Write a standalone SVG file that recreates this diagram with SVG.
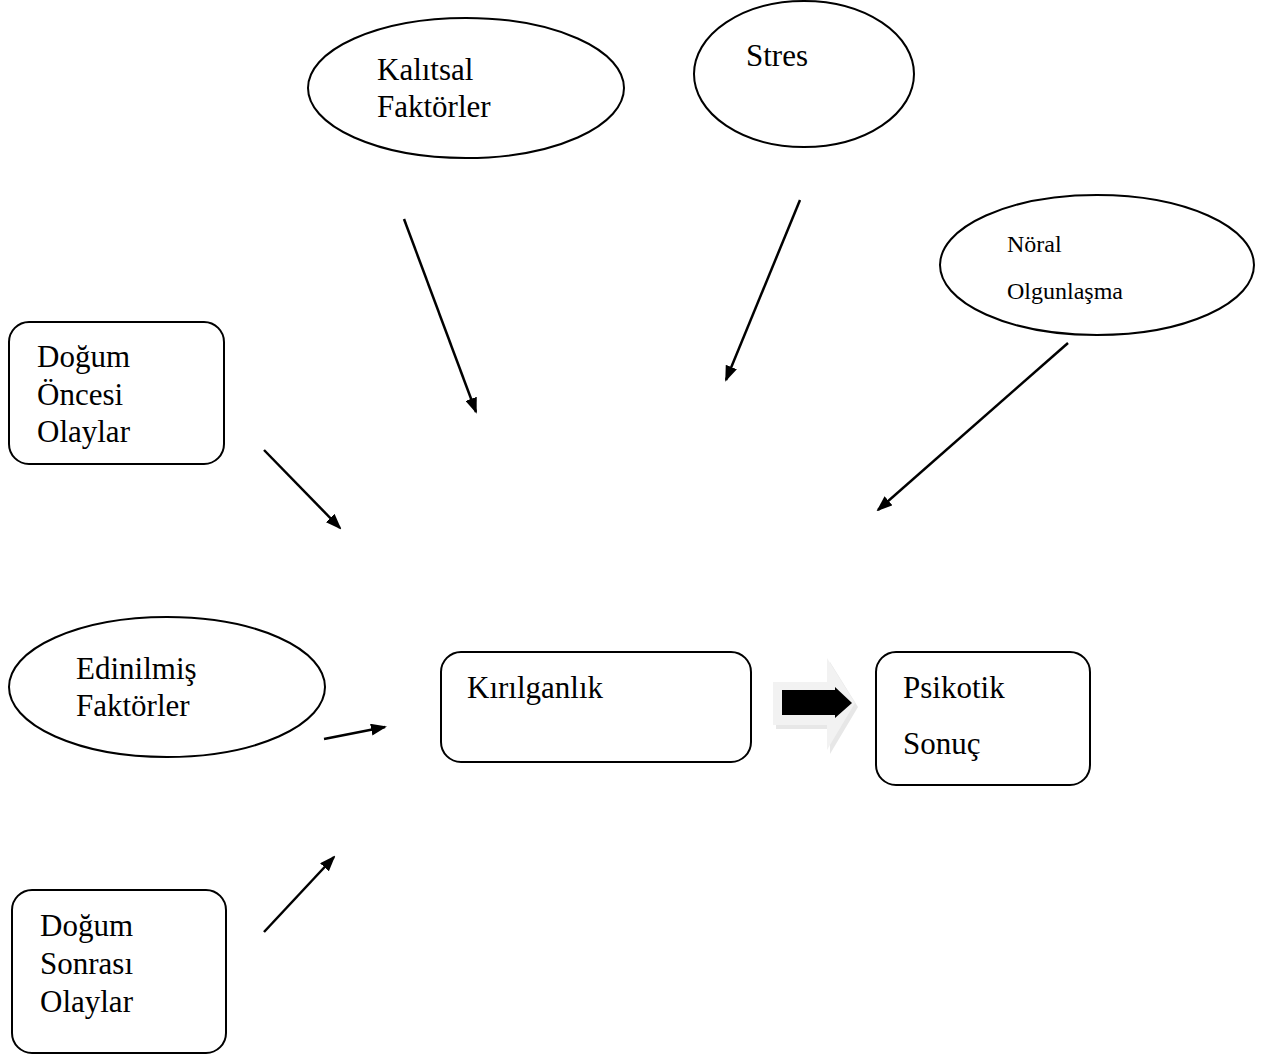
<svg xmlns="http://www.w3.org/2000/svg" width="1267" height="1055" viewBox="0 0 1267 1055">
<style>
.n{fill:#fff;stroke:#000;stroke-width:2}
.t{font-family:"Liberation Serif","Times New Roman",serif;font-size:31px;fill:#000}
.s{font-family:"Liberation Serif","Times New Roman",serif;font-size:24px;fill:#000}
.c{stroke:#000;stroke-width:2.5;fill:none;marker-end:url(#ah)}
</style>
<defs>
<marker id="ah" markerWidth="16" markerHeight="12" refX="14" refY="6" orient="auto" markerUnits="userSpaceOnUse">
<path d="M0,0 L16,6 L0,12 Z" fill="#000"/>
</marker>
</defs>
<rect width="1267" height="1055" fill="#fff"/>
<g id="kalitsal"><ellipse class="n" cx="466" cy="88" rx="158" ry="70"/><text class="t" x="377" y="80">Kalıtsal</text><text class="t" x="377" y="117">Faktörler</text></g>
<g id="stres"><ellipse class="n" cx="804" cy="74" rx="110" ry="73"/><text class="t" x="746" y="66">Stres</text></g>
<g id="noral"><ellipse class="n" cx="1097" cy="265" rx="157" ry="70"/><text class="s" x="1007" y="252">Nöral</text><text class="s" x="1007" y="299">Olgunlaşma</text></g>
<g id="dogum-oncesi"><rect class="n" x="9" y="322" width="215" height="142" rx="20"/><text class="t" x="37" y="367">Doğum</text><text class="t" x="37" y="405">Öncesi</text><text class="t" x="37" y="442">Olaylar</text></g>
<g id="edinilmis"><ellipse class="n" cx="167" cy="687" rx="158" ry="70"/><text class="t" x="76" y="679">Edinilmiş</text><text class="t" x="76" y="716">Faktörler</text></g>
<g id="kirilganlik"><rect class="n" x="441" y="652" width="310" height="110" rx="20"/><text class="t" x="467" y="698">Kırılganlık</text></g>
<g id="psikotik"><rect class="n" x="876" y="652" width="214" height="133" rx="20"/><text class="t" x="903" y="698">Psikotik</text><text class="t" x="903" y="754">Sonuç</text></g>
<g id="dogum-sonrasi"><rect class="n" x="12" y="890" width="214" height="163" rx="20"/><text class="t" x="40" y="936">Doğum</text><text class="t" x="40" y="974">Sonrası</text><text class="t" x="40" y="1012">Olaylar</text></g>
<g id="connectors">
<line class="c" x1="404" y1="219" x2="476" y2="412"/>
<line class="c" x1="800" y1="200" x2="726" y2="380"/>
<line class="c" x1="1068" y1="343" x2="878" y2="510"/>
<line class="c" x1="264" y1="450" x2="340" y2="528"/>
<line class="c" x1="324" y1="739" x2="385" y2="727"/>
<line class="c" x1="264" y1="932" x2="334" y2="857"/>
<g id="block-arrow">
<path d="M776,686 L830,686 L830,662 L858,707 L830,754 L830,729 L776,729 Z" fill="#ddd" opacity="0.7"/>
<path d="M773,682 L827,682 L827,658 L855,703 L827,750 L827,725 L773,725 Z" fill="#f2f2f2"/>
<path d="M782,690 L835,690 L835,687 L852,703 L835,718 L835,715 L782,715 Z" fill="#000"/>
</g>
</g>
</svg>
